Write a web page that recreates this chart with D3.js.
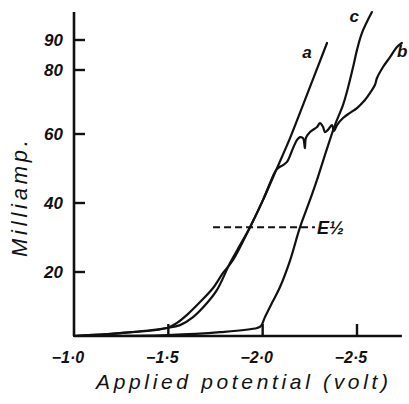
<!DOCTYPE html>
<html>
<head>
<meta charset="utf-8">
<script src="https://cdn.jsdelivr.net/npm/d3@7"></script>
<style>
  body { margin: 0; background: #fff; }
  text { fill: #111; }
</style>
</head>
<body>
<svg id="chart" width="409" height="404"></svg>
<script>
// volts (negative) and milliamps
const curveA = [
  [-1.0, 0], [-1.244, 0.9], [-1.493, 2.5], [-1.546, 4.1], [-1.599, 6.6],
  [-1.668, 10.6], [-1.737, 15.0], [-1.790, 19.7], [-1.843, 23.5],
  [-1.933, 33.0], [-2.002, 40.9], [-2.076, 50.1], [-2.145, 58.8],
  [-2.214, 69.1], [-2.341, 89.0]
];
const curveB = [
  [-1.0, 0], [-1.244, 0.9], [-1.493, 2.5], [-1.562, 3.4], [-1.631, 5.9],
  [-1.705, 10.3], [-1.758, 14.4], [-1.827, 22.6], [-1.880, 27.8],
  [-1.933, 33.0], [-2.002, 40.9], [-2.065, 49.0], [-2.081, 50.1],
  [-2.108, 51.0], [-2.129, 51.9], [-2.161, 55.9], [-2.182, 58.3],
  [-2.198, 59.1], [-2.214, 58.8], [-2.224, 55.9], [-2.229, 58.8],
  [-2.251, 60.6], [-2.288, 62.2], [-2.304, 63.4], [-2.320, 62.2],
  [-2.330, 60.6], [-2.346, 61.3], [-2.367, 62.8], [-2.378, 60.9],
  [-2.394, 62.8], [-2.426, 65.0], [-2.463, 66.6], [-2.500, 68.1],
  [-2.542, 70.6], [-2.569, 72.8], [-2.595, 75.3], [-2.606, 77.5],
  [-2.638, 81.0], [-2.675, 84.3], [-2.712, 87.7], [-2.738, 89.0]
];
const curveC = [
  [-1.0, 0], [-1.498, 0.3], [-1.774, 1.2], [-1.970, 2.5], [-1.991, 3.1],
  [-2.012, 5.9], [-2.049, 10.3], [-2.092, 15.3], [-2.145, 23.3],
  [-2.198, 33.0], [-2.251, 40.9], [-2.288, 46.7], [-2.330, 53.9],
  [-2.383, 62.8], [-2.426, 69.1], [-2.452, 74.4], [-2.479, 80.9],
  [-2.500, 86.7], [-2.526, 92.3], [-2.579, 99.3]
];
const halfWave = { mA: 33, from: -1.737, to: -2.277 };
const xTicks = [-1.0, -1.5, -2.0, -2.5];
const yTicks = [20, 40, 60, 80, 90];
const curveLabels = [
  { name: "a", v: -2.21, mA: 84 },
  { name: "c", v: -2.46, mA: 96 },
  { name: "b", v: -2.712, mA: 84.3 }
];

const svg = d3.select("#chart");

// the hand-drawn axis is not quite even, so the y scale is piecewise
const x = d3.scaleLinear().domain([-1.0, -2.5]).range([74, 357]);
const y = d3.scaleLinear()
  .domain([0, 20, 40, 60, 80, 90])
  .range([336, 272, 203, 134, 70, 40]);
const xEnd = -2.738;
const yEnd = 99.3;

const fmt = v => "\u2212" + Math.abs(v).toFixed(1).replace(".", "\u00b7");

// axes
svg.append("line")
  .attr("x1", x(-1.0)).attr("x2", x(-1.0))
  .attr("y1", y(0)).attr("y2", y(yEnd))
  .attr("stroke", "#111").attr("stroke-width", 2.6);
svg.append("line")
  .attr("x1", x(-1.0)).attr("x2", x(xEnd))
  .attr("y1", y(0)).attr("y2", y(0))
  .attr("stroke", "#111").attr("stroke-width", 2.6);

svg.append("g").selectAll("line")
  .data(yTicks).enter().append("line")
  .attr("x1", x(-1.0)).attr("x2", x(-1.0) + 11)
  .attr("y1", d => y(d)).attr("y2", d => y(d))
  .attr("stroke", "#111").attr("stroke-width", 2.4);

svg.append("g").selectAll("line")
  .data(xTicks.slice(1)).enter().append("line")
  .attr("x1", d => x(d)).attr("x2", d => x(d))
  .attr("y1", y(0)).attr("y2", y(0) - 12)
  .attr("stroke", "#111").attr("stroke-width", 2.4);

svg.append("g").selectAll("text")
  .data(yTicks).enter().append("text")
  .attr("x", x(-1.0) - 11)
  .attr("y", d => y(d) + 6)
  .attr("text-anchor", "end")
  .attr("font-family", "Liberation Sans, Arial, sans-serif")
  .attr("font-style", "italic").attr("font-weight", "bold")
  .attr("font-size", 17)
  .text(d => d);

svg.append("g").selectAll("text")
  .data(xTicks).enter().append("text")
  .attr("x", d => x(d) - 6)
  .attr("y", y(0) + 27)
  .attr("text-anchor", "middle")
  .attr("font-family", "Liberation Sans, Arial, sans-serif")
  .attr("font-style", "italic").attr("font-weight", "bold")
  .attr("font-size", 16)
  .text(fmt);

svg.append("text")
  .attr("x", 96).attr("y", 389)
  .attr("textLength", 292)
  .attr("font-family", "Liberation Sans, Arial, sans-serif")
  .attr("font-style", "italic")
  .attr("font-size", 21)
  .text("Applied potential (volt)");

svg.append("text")
  .attr("transform", "translate(27,257) rotate(-90)")
  .attr("textLength", 117)
  .attr("font-family", "Liberation Sans, Arial, sans-serif")
  .attr("font-style", "italic")
  .attr("font-size", 22)
  .text("Milliamp.");

// curves
const line = d3.line()
  .x(d => x(d[0]))
  .y(d => y(d[1]))
  .curve(d3.curveCatmullRom.alpha(0.5));

svg.append("g").selectAll("path")
  .data([curveA, curveB, curveC]).enter().append("path")
  .attr("d", line)
  .attr("fill", "none")
  .attr("stroke", "#111")
  .attr("stroke-width", 2.2)
  .attr("stroke-linejoin", "round")
  .attr("stroke-linecap", "round");

// half-wave marker
svg.append("line")
  .attr("x1", x(halfWave.from)).attr("x2", x(halfWave.to))
  .attr("y1", y(halfWave.mA)).attr("y2", y(halfWave.mA))
  .attr("stroke", "#111").attr("stroke-width", 2)
  .attr("stroke-dasharray", "7,4");

svg.append("text")
  .attr("x", x(halfWave.to) + 2)
  .attr("y", y(halfWave.mA) + 7)
  .attr("font-family", "Liberation Sans, Arial, sans-serif")
  .attr("font-style", "italic").attr("font-weight", "bold")
  .attr("font-size", 18)
  .text("E\u00bd");

svg.append("g").selectAll("text")
  .data(curveLabels).enter().append("text")
  .attr("x", d => x(d.v))
  .attr("y", d => y(d.mA))
  .attr("font-family", "Liberation Sans, Arial, sans-serif")
  .attr("font-style", "italic").attr("font-weight", "bold")
  .attr("font-size", 17)
  .text(d => d.name);
</script>
</body>
</html>
